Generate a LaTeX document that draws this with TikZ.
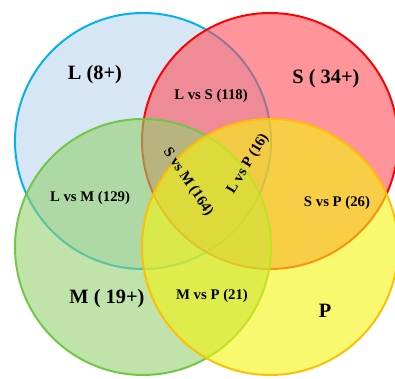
\documentclass[tikz,border=0pt]{standalone}
\usepackage{fontspec}
\setmainfont{Liberation Serif}
\usepackage{tikz}
\definecolor{sky line}{rgb}{0.0, 0.69, 0.94}
\definecolor{sky fill}{rgb}{0.74, 0.84, 0.93}
\definecolor{rose line}{rgb}{1.0, 0.0, 0.0}
\definecolor{rose fill}{rgb}{1.0, 0.31, 0.35}
\definecolor{leaf line}{rgb}{0.44, 0.78, 0.27}
\definecolor{leaf fill}{rgb}{0.58, 0.82, 0.44}
\definecolor{lemon line}{rgb}{1.0, 0.75, 0.0}
\definecolor{lemon fill}{rgb}{0.96, 0.96, 0.06}

\begin{document}
\begin{tikzpicture}[
		setring/.style = {line width = 1.4pt, fill opacity = 0.6},
		bigset/.style = {inner sep = 0pt, font = \fontsize{14.5}{17}\bfseries\selectfont},
		pairset/.style = {inner sep = 0pt, font = \fontsize{10.5}{12}\bfseries\selectfont}
	]
			\useasboundingbox (-5.1625, -4.625) rectangle (4.7125, 4.85);
			% circles
			\begin{scope}
				\filldraw[setring, draw = sky line, fill = sky fill] (-1.5875, 1.325) circle (3.2);
				\filldraw[setring, draw = rose line, fill = rose fill] (1.5875, 1.325) circle (3.2);
				\filldraw[setring, draw = leaf line, fill = leaf fill] (-1.5875, -1.325) circle (3.2);
				\filldraw[setring, draw = lemon line, fill = lemon fill] (1.5875, -1.325) circle (3.2);
			\end{scope}
			% single sets
			\node[bigset] (L) at (-2.7875, 2.975) {L (8+)};
			\node[bigset] (S) at (2.9875, 2.875) {S ( 34+)};
			\node[bigset] (M) at (-2.4875, -2.625) {M ( 19+)};
			\node[bigset] (P) at (2.9625, -2.925) {P};
			% pairs
			\node[pairset] (LS) at (0.1125, 2.45) {L vs S (118)};
			\node[pairset] (LM) at (-2.9125, -0.1) {L vs M (129)};
			\node[pairset] (MP) at (0.1375, -2.55) {M vs P (21)};
			\node[pairset] (SP) at (3.2625, -0.225) {S vs P (26)};
			\node[pairset, rotate = -56] (SM) at (-0.4625, 0.3) {S vs M (164)};
			\node[pairset, rotate = 59] (LP) at (1.0375, 0.75) {L vs P (16)};
		\end{tikzpicture}
\end{document}
